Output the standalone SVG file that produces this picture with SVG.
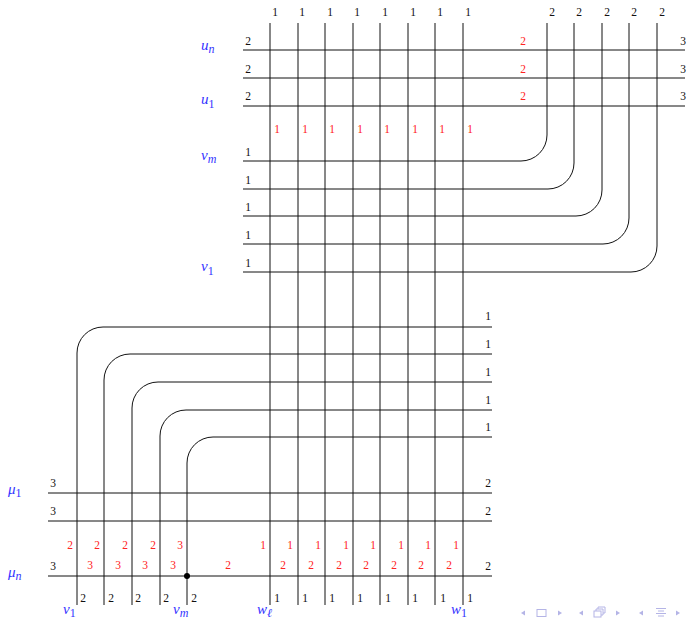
<svg xmlns="http://www.w3.org/2000/svg" width="688" height="622" viewBox="0 0 688 622">
<style>
.w{fill:none;stroke:#111;stroke-width:1}
.k{font-family:"Liberation Serif","DejaVu Serif",serif;font-size:11.5px;fill:#111;text-anchor:middle}
.r{font-family:"Liberation Serif","DejaVu Serif",serif;font-size:11.5px;fill:#f22;text-anchor:middle}
.b{font-family:"Liberation Serif","DejaVu Serif",serif;font-style:italic;font-size:15px;fill:#33f}
.s{font-size:12px;font-style:normal}
.si{font-size:12px}
.nav{fill:#b4b4e6;stroke:none}
.navs{fill:none;stroke:#b4b4e6;stroke-width:1}
</style>
<g id="connectors">
<path class="w" d="M270,23V605M298,23V605M325,23V605M353,23V605M380,23V605M408,23V605M435,23V605M463,23V605"/>
<path class="w" d="M243,50H685M243,78H685M243,106H685"/>
<path class="w" d="M243,161H521A26,26 0 0 0 547,135V23"/>
<path class="w" d="M243,189H548A26,26 0 0 0 574,163V23"/>
<path class="w" d="M243,216H576A26,26 0 0 0 602,190V23"/>
<path class="w" d="M243,244H603A26,26 0 0 0 629,218V23"/>
<path class="w" d="M243,272H631A26,26 0 0 0 657,246V23"/>
<path class="w" d="M492,327H103A26,26 0 0 0 77,353V605"/>
<path class="w" d="M492,354H130A26,26 0 0 0 104,380V605"/>
<path class="w" d="M492,382H158A26,26 0 0 0 132,408V605"/>
<path class="w" d="M492,410H186A26,26 0 0 0 160,436V605"/>
<path class="w" d="M492,437H213A26,26 0 0 0 187,463V605"/>
<path class="w" d="M48,493H492M48,521H492M48,576H492"/>
</g>
<g id="dot"><circle cx="187" cy="576" r="3" fill="#000"/></g>
<g id="top-labels">
<text class="k" x="275" y="16">1</text><text class="k" x="302" y="16">1</text><text class="k" x="330" y="16">1</text><text class="k" x="357" y="16">1</text><text class="k" x="385" y="16">1</text><text class="k" x="413" y="16">1</text><text class="k" x="440" y="16">1</text><text class="k" x="468" y="16">1</text>
<text class="k" x="552" y="16">2</text><text class="k" x="579" y="16">2</text><text class="k" x="607" y="16">2</text><text class="k" x="634" y="16">2</text><text class="k" x="662" y="16">2</text>
</g>
<g id="u-labels">
<text class="k" x="248" y="45">2</text><text class="k" x="248" y="73">2</text><text class="k" x="248" y="100">2</text>
<text class="r" x="523" y="45">2</text><text class="r" x="523" y="73">2</text><text class="r" x="523" y="100">2</text>
<text class="k" x="683" y="45">3</text><text class="k" x="683" y="73">3</text><text class="k" x="683" y="100">3</text>
<text class="b" x="201" y="50">u<tspan class="si" dy="3">n</tspan></text>
<text class="b" x="201" y="104">u<tspan class="s" dy="4">1</tspan></text>
</g>
<g id="red-ones">
<text class="r" x="277" y="133">1</text><text class="r" x="305" y="133">1</text><text class="r" x="332" y="133">1</text><text class="r" x="360" y="133">1</text><text class="r" x="387" y="133">1</text><text class="r" x="415" y="133">1</text><text class="r" x="442" y="133">1</text><text class="r" x="470" y="133">1</text>
</g>
<g id="v-labels">
<text class="k" x="248" y="156">1</text><text class="k" x="248" y="184">1</text><text class="k" x="248" y="211">1</text><text class="k" x="248" y="239">1</text><text class="k" x="248" y="267">1</text>
<text class="b" x="201" y="160">v<tspan class="si" dy="3">m</tspan></text>
<text class="b" x="201" y="271">v<tspan class="s" dy="4">1</tspan></text>
</g>
<g id="right-ones">
<text class="k" x="488" y="320">1</text><text class="k" x="488" y="348">1</text><text class="k" x="488" y="376">1</text><text class="k" x="488" y="404">1</text><text class="k" x="488" y="431">1</text>
</g>
<g id="mu-labels">
<text class="k" x="53" y="487">3</text><text class="k" x="53" y="515">3</text><text class="k" x="53" y="570">3</text>
<text class="k" x="488" y="487">2</text><text class="k" x="488" y="515">2</text><text class="k" x="488" y="570">2</text>
<text class="b" x="8" y="494">μ<tspan class="s" dy="3">1</tspan></text>
<text class="b" x="8" y="577">μ<tspan class="si" dy="3">n</tspan></text>
</g>
<g id="red-rows">
<text class="r" x="70" y="549">2</text><text class="r" x="97" y="549">2</text><text class="r" x="125" y="549">2</text><text class="r" x="153" y="549">2</text><text class="r" x="180" y="549">3</text>
<text class="r" x="263" y="549">1</text><text class="r" x="290" y="549">1</text><text class="r" x="318" y="549">1</text><text class="r" x="346" y="549">1</text><text class="r" x="373" y="549">1</text><text class="r" x="401" y="549">1</text><text class="r" x="428" y="549">1</text><text class="r" x="456" y="549">1</text>
<text class="r" x="90" y="569">3</text><text class="r" x="118" y="569">3</text><text class="r" x="145" y="569">3</text><text class="r" x="173" y="569">3</text><text class="r" x="228" y="569">2</text>
<text class="r" x="283" y="569">2</text><text class="r" x="311" y="569">2</text><text class="r" x="339" y="569">2</text><text class="r" x="366" y="569">2</text><text class="r" x="394" y="569">2</text><text class="r" x="421" y="569">2</text><text class="r" x="449" y="569">2</text>
</g>
<g id="bottom-labels">
<text class="k" x="83" y="602">2</text><text class="k" x="111" y="602">2</text><text class="k" x="138" y="602">2</text><text class="k" x="166" y="602">2</text><text class="k" x="194" y="602">2</text>
<text class="k" x="277" y="602">1</text><text class="k" x="305" y="602">1</text><text class="k" x="332" y="602">1</text><text class="k" x="360" y="602">1</text><text class="k" x="388" y="602">1</text><text class="k" x="415" y="602">1</text><text class="k" x="443" y="602">1</text><text class="k" x="470" y="602">1</text>
<text class="b" x="63" y="614">ν<tspan class="s" dy="3">1</tspan></text>
<text class="b" x="173" y="614">ν<tspan class="si" dy="3">m</tspan></text>
<text class="b" x="257" y="614">w<tspan class="si" dy="3">ℓ</tspan></text>
<text class="b" x="451" y="614">w<tspan class="s" dy="3">1</tspan></text>
</g>
<g id="nav">
<polygon class="nav" points="521,613 525,610.5 525,615.5"/>
<rect class="navs" x="537" y="609.5" width="9" height="7"/>
<polygon class="nav" points="562,613 558,610.5 558,615.5"/>
<polygon class="nav" points="579,613 583,610.5 583,615.5"/>
<rect class="navs" x="594" y="611" width="7" height="6"/>
<path class="navs" d="M596,611V609H603V615H601M598,609V607H605V613H603"/>
<polygon class="nav" points="620,613 616,610.5 616,615.5"/>
<polygon class="nav" points="639,613 643,610.5 643,615.5"/>
<path class="navs" d="M656,608.5H666M658,611H664M656,613.5H666M658,616H664"/>
<polygon class="nav" points="680,613 676,610.5 676,615.5"/>
</g>
</svg>
